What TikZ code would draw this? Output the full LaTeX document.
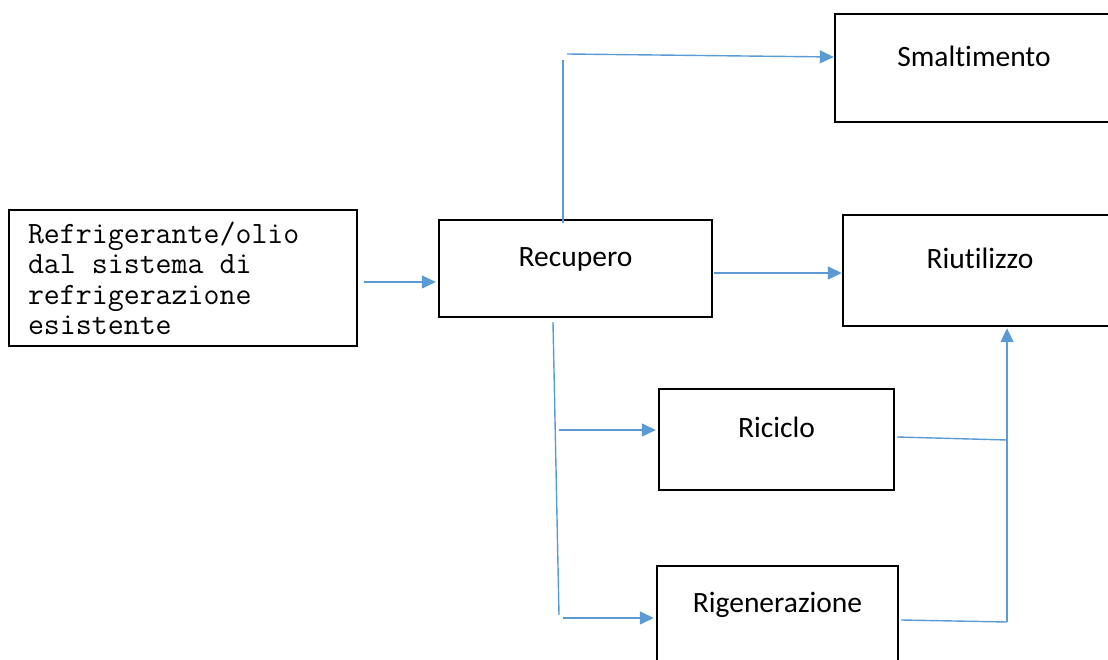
\documentclass[tikz,border=0pt]{standalone}
\usepackage{fontspec}
\setmainfont[Ligatures=NoCommon]{Carlito}
\usetikzlibrary{arrows.meta}
\definecolor{linkblue}{HTML}{5B9BD5}
\tikzset{
  box/.style={draw, line width=2.4pt, inner sep=0pt},
  boxlabel/.style={anchor=base, inner sep=0pt, font=\fontsize{29.5}{33}\selectfont},
  monotext/.style={anchor=north west, inner sep=0pt, align=left,
    font=\ttfamily\fontsize{31}{30.3}\selectfont},
  link/.style={draw=linkblue, line width=1.4pt},
  linkarrow/.style={link, -{Triangle[length=14pt, width=13pt]}, color=linkblue}
}
\begin{document}
\begin{tikzpicture}[x=1pt, y=-1pt]
    \clip (0, 0) rectangle (1108, 660);
    \node[box, minimum height=136pt, minimum width=348pt] (src) at (183, 278) {};
    \node[box, minimum width=273pt, minimum height=97pt] (rec) at (575.5, 268.5) {};
    \node[box, minimum width=278pt, minimum height=108pt] (sma) at (974, 68) {};
    \node[box, minimum width=274pt, minimum height=111pt] (riu) at (980, 270.5) {};
    \node[box, minimum width=235pt, minimum height=101pt] (ric) at (776.5, 439.5) {};
    \node[box, minimum width=241pt, minimum height=102pt] (rig) at (777.5, 617) {};
    \node[monotext] (srcT) at ([xshift=20pt, yshift=-13pt]src.north west)
          {\spaceskip=0.525em\relax Refrigerante/olio\\dal sistema di\\refrigerazione\\esistente};
    \node[boxlabel] (recT) at ([yshift=-48pt]rec.north) {Recupero};
    \node[boxlabel] (smaT) at ([yshift=-54pt]sma.north) {Smaltimento};
    \node[boxlabel] (riuT) at ([yshift=-55pt]riu.north) {Riutilizzo};
    \node[boxlabel] (ricT) at ([yshift=-50pt]ric.north) {Riciclo};
    \node[boxlabel] (rigT) at ([yshift=-48pt]rig.north) {Rigenerazione};
    \coordinate (a1) at ([xshift=6pt, yshift=-4pt]src.east);
    \draw[linkarrow] (a1) -- ([xshift=-2pt]rec.west |- a1);
    \coordinate (upend) at (563, 60);
    \coordinate (smastart) at (567, 54);
    \draw[link] ([xshift=-12.5pt, yshift=-4pt]rec.north) -- (upend);
    \draw[linkarrow] (smastart) -- ([yshift=11pt]sma.west);
    \draw[linkarrow] ([xshift=1pt, yshift=-4.5pt]rec.east) -- ([yshift=-2.5pt]riu.west);
    \coordinate (downend) at (559, 615);
    \draw[link] ([xshift=-22.5pt, yshift=-4pt]rec.south) -- (downend);
    \coordinate (b1) at (559, 430);
    \coordinate (b2) at (563, 618);
    \draw[linkarrow] (b1) -- ([xshift=-2pt]ric.west |- b1);
    \draw[linkarrow] (b2) -- ([xshift=-2pt]rig.west |- b2);
    \coordinate (j1) at (1007, 440);
    \coordinate (j2) at (1007, 622);
    \draw[link] ([xshift=2pt, yshift=2.5pt]ric.east) -- (j1);
    \draw[link] ([xshift=2pt, yshift=-3pt]rig.east) -- (j2);
    \draw[linkarrow] (j2) -- ([yshift=-1pt]j2 |- riu.south);
\end{tikzpicture}
\end{document}
